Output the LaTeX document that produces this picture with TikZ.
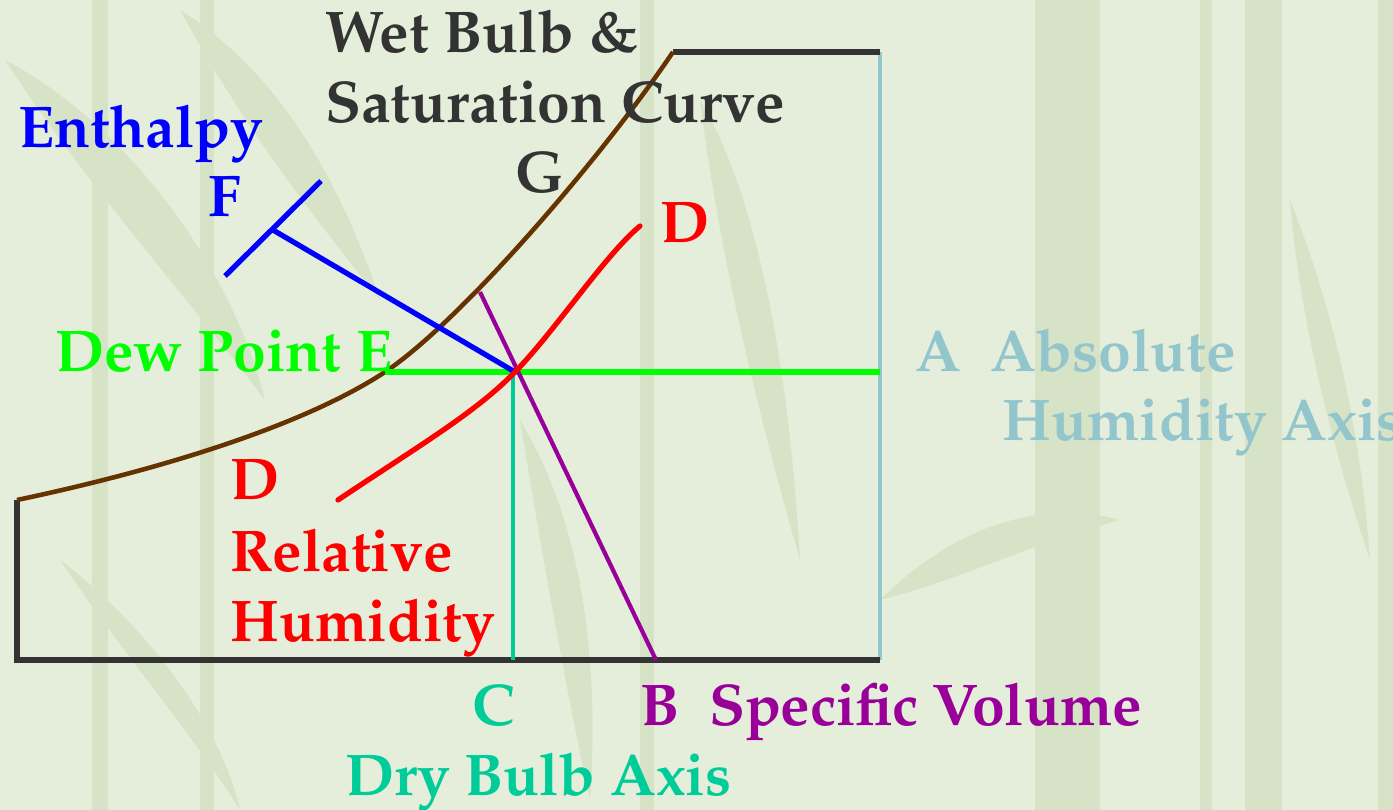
\documentclass[tikz,border=0pt]{standalone}
\usepackage[T1]{fontenc}
\usepackage{mathpazo}
\definecolor{bgc}{HTML}{E5EEDA}
\definecolor{stalk}{HTML}{D7E3C7}
\definecolor{darkt}{HTML}{333333}
\definecolor{brownc}{HTML}{663300}
\definecolor{axisA}{HTML}{93C6CC}
\definecolor{tealc}{HTML}{00CC99}
\definecolor{purp}{HTML}{990099}
\definecolor{dewg}{HTML}{00FF00}
\tikzset{
  lbl/.style={inner sep=0pt, font=\fontsize{33.5}{40}\selectfont\bfseries},
  bgstalk/.style={fill=stalk, draw=none},
}
\begin{document}
\begin{tikzpicture}[x=0.02cm,y=-0.02cm]
\useasboundingbox (0,0) rectangle (1393,810);
% background
\fill[bgc] (0,0) rectangle (1393,810);
\fill[bgstalk] (1035,0) rectangle (1100,810);
\fill[bgstalk] (1245,0) rectangle (1282,810);
\fill[bgstalk] (1378,0) rectangle (1393,810);
\fill[bgstalk] (92,0) rectangle (108,810);
\fill[bgstalk] (200,0) rectangle (214,810);
\fill[bgstalk] (640,0) rectangle (654,810);
\fill[bgstalk] (1200,0) rectangle (1212,810);
\fill[bgstalk] (5,60) .. controls (120,120) and (230,260) .. (265,400) .. controls (190,300) and (90,190) .. (5,60);
\fill[bgstalk] (180,10) .. controls (260,60) and (330,150) .. (380,300) .. controls (300,200) and (240,120) .. (180,10);
\fill[bgstalk] (700,100) .. controls (760,200) and (790,380) .. (800,560) .. controls (760,420) and (720,260) .. (700,100);
\fill[bgstalk] (880,600) .. controls (960,520) and (1050,500) .. (1120,520) .. controls (1040,540) and (960,580) .. (880,600);
\fill[bgstalk] (1290,200) .. controls (1330,300) and (1360,420) .. (1370,560) .. controls (1330,440) and (1300,320) .. (1290,200);
\fill[bgstalk] (60,560) .. controls (140,620) and (220,720) .. (240,810) .. controls (190,730) and (120,650) .. (60,560);
\fill[bgstalk] (520,420) .. controls (580,520) and (600,650) .. (590,800) .. controls (560,660) and (540,540) .. (520,420);
% coordinates
\coordinate (BL) at (17,660);
\coordinate (BR) at (880,660);
\coordinate (TL) at (17,500);
\coordinate (TT) at (673,52);
\coordinate (TR) at (880,52);
\coordinate (X) at (515,372);
\coordinate (Eend) at (385,372);
\coordinate (Aend) at (880,372);
\coordinate (Cbot) at (513,660);
\coordinate (Ctop) at (513,372);
\coordinate (Btop) at (480,292);
\coordinate (Bbot) at (656,660);
\coordinate (Fmid) at (273,230);
\coordinate (Fa) at (225,276);
\coordinate (Fb) at (321,181);
\coordinate (Rlo) at (338,500);
\coordinate (Rhi) at (640,226);
% frame
\draw[axisA, line width=2pt] (TR) -- (BR);
\draw[darkt, line width=3.2pt] (TL) -- (BL) -- (BR);
\draw[darkt, line width=3.2pt] (TT) -- (TR);
% saturation curve
\draw[brownc, line width=2.6pt] (TL) .. controls (150,472) and (300,428) .. (Eend) .. controls (460,322) and (600,160) .. (TT);
% dew point
\draw[dewg, line width=3pt] (Eend) -- (Aend);
% dry bulb
\draw[tealc, line width=2.5pt] (Ctop) -- (Cbot);
% specific volume
\draw[purp, line width=2.4pt] (Btop) -- (Bbot);
% enthalpy
\draw[blue, line width=3pt] (Fa) -- (Fb);
\draw[blue, line width=3pt] (Fmid) -- (X);
% relative humidity
\draw[red, line width=3pt, line cap=round] (Rlo) .. controls (420,445) and (475,413) .. (X) .. controls (555,331) and (605,255) .. (Rhi);
% labels
\node[lbl, darkt, anchor=base west] (wb1) at (325,53) {Wet Bulb \&};
\node[lbl, darkt, anchor=base west] (wb2) at (325,123) {Saturation Curve};
\node[lbl, darkt, anchor=base] (G) at (540,193) {G};
\node[lbl, blue, anchor=base west] (en) at (18,148) {Enthalpy};
\node[lbl, blue, anchor=base] (F) at (225,217) {F};
\node[lbl, dewg, anchor=base west] (dp) at (55,372) {Dew Point E};
\node[lbl, red, anchor=base west] (D1) at (660,243) {D};
\node[lbl, red, anchor=base west] (D2) at (230,500) {D};
\node[lbl, red, anchor=base west] (rh1) at (230,572) {Relative};
\node[lbl, red, anchor=base west] (rh2) at (230,642) {Humidity};
\node[lbl, axisA, anchor=base west] (A1) at (915,372) {A\ \ Absolute};
\node[lbl, axisA, anchor=base west] (A2) at (1002,441) {Humidity Axis};
\node[lbl, tealc, anchor=base] (C) at (494,725) {C};
\node[lbl, purp, anchor=base west] (B) at (640,725) {B\ \ Specific Volume};
\node[lbl, tealc, anchor=base west] (db) at (345,795) {Dry Bulb Axis};
\end{tikzpicture}
\end{document}
